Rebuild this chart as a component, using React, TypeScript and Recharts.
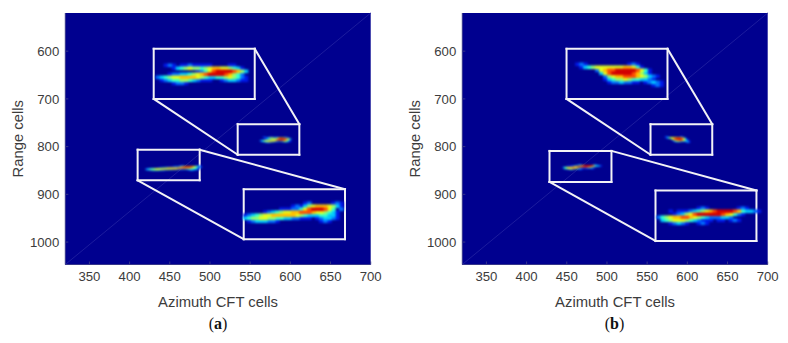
import React from 'react';
import {
  ScatterChart,
  Scatter,
  XAxis,
  YAxis,
  ReferenceArea,
  ReferenceLine,
  Label,
} from 'recharts';

// heat levels, 0 = background, 9 = hottest
const topSpotA = [
  '..121.11211111....11...',
  '....134565545677665431.',
  '..........1246899998753',
  '...1223345678999987542.',
  '23456677776543344565421',
  '.1234455432111..1233211',
  '....1221...............',
];
const lowSpotA = [
  '...............12.....121.',
  '............1213567776531',
  '.........11122468999864.2',
  '.....1234566778887665431.',
  '123456677777765433344331.',
  '34556655443322111.123321.',
  '.12333221..........121...',
];
const topSpotB = [
  '121..........121',
  '.1345666666677641',
  '.....26788999998641',
  '......3689999987531',
  '.......25677888765321',
  '.......1345565443321',
  '........12232211.12321',
  '...................121',
];
const lowSpotB = [
  '..........121.......121..',
  '...1.111234567899998743321',
  '....123568999999876421',
  '2456778876543222332',
  '.3456665432111.11.121',
  '...12321..121',
];

const xTicks = [350, 400, 450, 500, 550, 600, 650, 700];
const yTicks = [600, 700, 800, 900, 1000];
const xDomain = [320, 700];
const yDomain = [520, 1047];

const jet = ['#00008f', '#0018e8', '#0070ff', '#00c8ff', '#30ffd0', '#90ff70', '#e4ff1c', '#ffc000', '#ff5000', '#d40000'];

const plotLeft = 65.3;
const plotWidth = 305.4;
const plotTop = 13;
const plotHeight = 251.5;
const pxX = plotWidth / (xDomain[1] - xDomain[0]);
const pxY = plotHeight / (yDomain[1] - yDomain[0]);

type Spot = { rows: string[]; x: number; y: number; dx: number; dy: number; soft: string };
type Box = { x1: number; x2: number; y1: number; y2: number };
type Link = [number, number, number, number];

function toCells(spot: Spot) {
  const cells: { x: number; y: number; level: number }[] = [];
  spot.rows.forEach((row, r) => {
    row.split('').forEach((ch, c) => {
      const level = Number(ch);
      if (ch !== '.' && level > 0) {
        cells.push({ x: spot.x + c * spot.dx, y: spot.y + r * spot.dy, level });
      }
    });
  });
  return cells.sort((a, b) => a.level - b.level);
}

// box sides go through the same segment list as the connectors
function boxSides(b: Box): Link[] {
  return [
    [b.x1, b.y1, b.x2, b.y1],
    [b.x2, b.y1, b.x2, b.y2],
    [b.x2, b.y2, b.x1, b.y2],
    [b.x1, b.y2, b.x1, b.y1],
  ];
}

const spotsA: Spot[] = [
  { rows: topSpotA, x: 435.3, y: 629.6, dx: 4.98, dy: 6.28, soft: 'soft-big' },
  { rows: topSpotA, x: 563.1, y: 780.8, dx: 1.68, dy: 1.7, soft: 'soft-small' },
  { rows: lowSpotA, x: 544, y: 918.7, dx: 4.98, dy: 6.28, soft: 'soft-big' },
  { rows: lowSpotA, x: 421.7, y: 840.5, dx: 2.77, dy: 1.47, soft: 'soft-small' },
];
const boxesA: Box[] = [
  { x1: 430, x2: 555.7, y1: 595, y2: 700 },
  { x1: 534.5, x2: 611.2, y1: 753, y2: 817 },
  { x1: 410, x2: 487.2, y1: 806.4, y2: 870.5 },
  { x1: 542, x2: 668, y1: 889.4, y2: 994 },
];
const linksA: Link[] = [
  [430, 700, 534.5, 817],
  [555.7, 595, 611.2, 753],
  [487.2, 806.4, 668, 889.4],
  [410, 870.5, 542, 994],
];

const spotsB: Spot[] = [
  { rows: topSpotB, x: 463.3, y: 627.5, dx: 4.98, dy: 6.28, soft: 'soft-big' },
  { rows: topSpotB, x: 572.8, y: 779.8, dx: 1.42, dy: 1.57, soft: 'soft-small' },
  { rows: lowSpotB, x: 564.5, y: 929.2, dx: 4.98, dy: 6.28, soft: 'soft-big' },
  { rows: lowSpotB, x: 446, y: 838.5, dx: 1.87, dy: 1.8, soft: 'soft-small' },
];
const boxesB: Box[] = [
  { x1: 449.7, x2: 575.3, y1: 595, y2: 700 },
  { x1: 554.2, x2: 631, y1: 753, y2: 817 },
  { x1: 428.5, x2: 505.6, y1: 809, y2: 874 },
  { x1: 560.4, x2: 686, y1: 892, y2: 997.7 },
];
const linksB: Link[] = [
  [449.7, 700, 554.2, 817],
  [575.3, 595, 631, 753],
  [505.6, 809, 686, 892],
  [428.5, 874, 560.4, 997.7],
];

const tickStyle = { fontSize: 13.2, fill: '#3c3c3c', fontFamily: 'Liberation Sans' };
const titleStyle = { fontSize: 14.8, fill: '#3c3c3c', fontFamily: 'Liberation Sans' };

function Panel({ spots, boxes, links, left, tag }: { spots: Spot[]; boxes: Box[]; links: Link[]; left: number; tag: string }) {
  const segments = [...boxes.flatMap(boxSides), ...links];
  return (
    <div style={{ position: 'absolute', left, top: 0, width: 394, height: 343 }}>
      <ScatterChart
        width={394}
        height={343}
        margin={{ top: plotTop, right: 394 - plotLeft - plotWidth, left: 0, bottom: 0 }}
      >
        <XAxis
          type="number"
          dataKey="x"
          domain={xDomain}
          ticks={xTicks}
          allowDataOverflow
          height={343 - plotTop - plotHeight}
          tick={tickStyle}
          tickSize={-3}
          tickMargin={10}
          stroke="#35358a"
        >
          <Label value="Azimuth CFT cells" position="insideTop" offset={32} style={titleStyle} />
        </XAxis>
        <YAxis
          type="number"
          dataKey="y"
          domain={yDomain}
          ticks={yTicks}
          reversed
          allowDataOverflow
          width={plotLeft}
          tick={tickStyle}
          tickSize={-3}
          tickMargin={9}
          stroke="#35358a"
        >
          <Label value="Range cells" angle={-90} position="insideLeft" offset={18} style={{ ...titleStyle, textAnchor: 'middle' }} />
        </YAxis>
        <ReferenceArea x1={xDomain[0]} x2={xDomain[1]} y1={yDomain[0]} y2={yDomain[1]} fill={jet[0]} fillOpacity={1} stroke="none" />
        <ReferenceLine
          segment={[{ x: xDomain[0], y: yDomain[1] }, { x: xDomain[1], y: yDomain[0] }]}
          stroke="#1c1c9e"
          strokeWidth={1}
        />
        {segments.map((l, i) => (
          <ReferenceLine
            key={i}
            segment={[{ x: l[0], y: l[1] }, { x: l[2], y: l[3] }]}
            stroke="#f2f2f6"
            strokeWidth={2}
            strokeLinecap="square"
          />
        ))}
        {spots.map((spot, i) => (
          <Scatter
            key={i}
            data={toCells(spot)}
            className={spot.soft}
            isAnimationActive={false}
            shape={(p: any) => {
              const w = spot.dx * pxX + 0.6;
              const h = spot.dy * pxY + 0.6;
              return <rect x={p.cx - w / 2} y={p.cy - h / 2} width={w} height={h} fill={jet[p.payload.level]} />;
            }}
          />
        ))}
      </ScatterChart>
      <div
        style={{
          position: 'absolute',
          left: 0,
          width: plotLeft * 2 + plotWidth,
          top: 315,
          textAlign: 'center',
          fontFamily: 'Liberation Serif',
          fontSize: 16,
          color: '#111',
        }}
      >
        (<b>{tag}</b>)
      </div>
    </div>
  );
}

export default function App() {
  return (
    <div style={{ position: 'absolute', left: 0, top: 0, width: 788, height: 343, background: '#fff', overflow: 'hidden' }}>
      <style>{`.soft-big { filter: blur(1px); } .soft-small { filter: blur(0.9px); }`}</style>
      <Panel spots={spotsA} boxes={boxesA} links={linksA} left={0} tag="a" />
      <Panel spots={spotsB} boxes={boxesB} links={linksB} left={396.5} tag="b" />
    </div>
  );
}
